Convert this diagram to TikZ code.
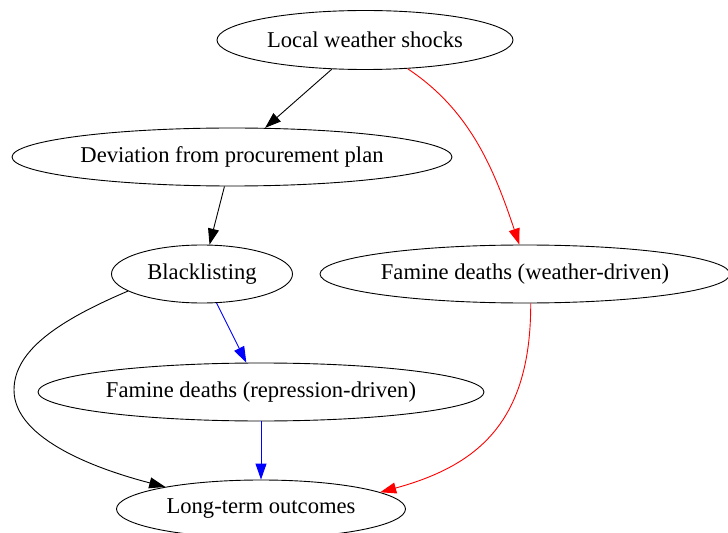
\documentclass[tikz,border=0pt]{standalone}
\usepackage{fontspec}
\setmainfont{Liberation Serif}
\usetikzlibrary{shapes.geometric,arrows.meta}
\begin{document}
\begin{tikzpicture}[x=1bp,y=-1bp,
  ell/.style={draw=black, line width=0.9bp, ellipse, inner sep=0pt,
    font=\fontsize{22.6bp}{27bp}\selectfont},
  arr/.style={line width=0.9bp, -{Triangle[length=16bp,width=11bp]}},
]
\useasboundingbox (0,0) rectangle (728,533);
\node[ell, minimum width=296bp, minimum height=59bp] (L) at (365,40) {Local weather shocks};
\node[ell, minimum width=440bp, minimum height=58bp] (D) at (232,157) {Deviation from procurement plan};
\node[ell, minimum width=181bp, minimum height=58bp] (B) at (202,274) {Blacklisting};
\node[ell, minimum width=410bp, minimum height=58bp] (W) at (525,274) {Famine deaths (weather-driven)};
\node[ell, minimum width=446bp, minimum height=58bp] (R) at (261,392) {Famine deaths (repression-driven)};
\node[ell, minimum width=289bp, minimum height=58bp] (T) at (261,509) {Long-term outcomes};

\draw[arr, black] (L) -- (D);
\draw[arr, black] (D) -- (B);
\draw[arr, blue] (B) -- (R);
\draw[arr, blue] (R) -- (T);
\draw[arr, red] (L.326) .. controls (470,110) and (494,169) .. (W.101);
\draw[arr, red] (W.281) .. controls (531,420) and (480,465) .. (T.8);
\draw[arr, black] (B.193) .. controls (60,320) and (14,350) .. (14,390)
  .. controls (14,440) and (100,470) .. (T.167);
\end{tikzpicture}
\end{document}
